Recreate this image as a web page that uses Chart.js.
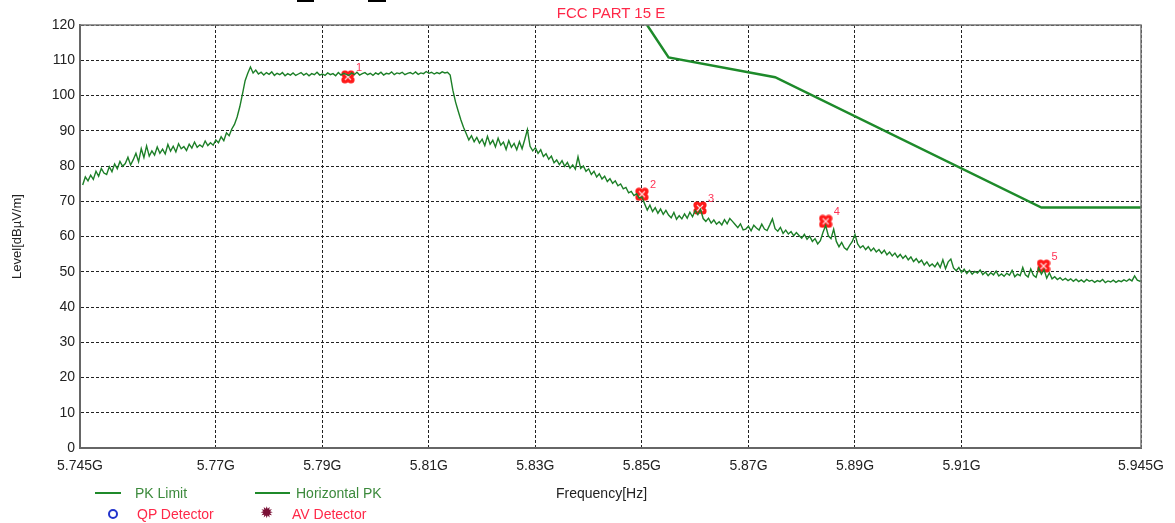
<!DOCTYPE html>
<html lang="en">
<head>
<meta charset="UTF-8">
<title>FCC PART 15 E</title>
<script src="https://cdn.jsdelivr.net/npm/chart.js"></script>
<style>
    body { margin: 0; background: #fff; font-family: Arial, "Liberation Sans", sans-serif; }
    #wrap { position: relative; width: 1175px; height: 523px; overflow: hidden; }
    #wrap canvas { position: absolute; left: 0; top: 0; }
    .txt { position: absolute; font-size: 14px; white-space: nowrap; line-height: 16px; }
    .bar { position: absolute; background: #000; height: 2px; top: 0; }
    .lg-line { position: absolute; height: 2px; background: #1f8a2a; }
    .ring { position: absolute; width: 6px; height: 6px; border: 2px solid #2233cc; border-radius: 50%; }
</style>
</head>
<body>
<div id="wrap">
    <canvas id="chart"></canvas>
    <div class="bar" style="left:297px;width:17px"></div>
    <div class="bar" style="left:368px;width:18px"></div>
    <div class="txt" style="left:611px;top:5px;transform:translateX(-50%);color:#ff2848;font-size:15px">FCC PART 15 E</div>
    <div class="txt" style="left:556px;top:485px;color:#222">Frequency[Hz]</div>
    <div class="lg-line" style="left:95px;top:492px;width:26px"></div>
    <div class="txt" style="left:135px;top:485px;color:#3c8a3c">PK Limit</div>
    <div class="lg-line" style="left:255px;top:492px;width:35px"></div>
    <div class="txt" style="left:296px;top:485px;color:#3c8a3c">Horizontal PK</div>
    <div class="ring" style="left:108px;top:509px"></div>
    <div class="txt" style="left:137px;top:506px;color:#ff2848">QP Detector</div>
    <div class="txt" style="left:260px;top:505px;color:#7a1036;font-size:16px">&#10041;</div>
    <div class="txt" style="left:292px;top:506px;color:#ff2848">AV Detector</div>
</div>

<script>
    const axisMinGHz = 5.7445;
    const axisMaxGHz = 5.9437;

    // measured trace, 0.5 MHz steps from 5.745 GHz
    const traceStartGHz = 5.745;
    const traceStepGHz = 0.0005;
    const traceLevels = [
        74.6, 76.9, 75.8, 77.4, 76.2, 78.5, 77.1, 79.3, 78.0, 77.6,
        79.8, 78.4, 80.6, 79.2, 81.3, 79.9, 80.7, 82.5, 80.3, 81.8,
        83.6, 81.2, 84.9, 82.4, 85.7, 82.8, 84.3, 83.1, 85.4, 83.6,
        84.8, 83.4, 86.1, 84.2, 85.6, 84.0, 86.3, 84.9, 85.5, 84.4,
        86.2, 85.1, 86.8, 85.3, 86.0, 85.4, 87.1, 85.8, 86.6, 85.9,
        87.4, 86.6, 88.3, 87.2, 89.4, 88.6, 90.5, 91.8, 93.9, 96.8,
        100.4, 104.2, 106.3, 108.1, 106.4, 107.2, 106.1, 106.6, 105.8, 106.5,
        106.0, 106.7, 105.7, 106.3, 105.9, 106.5, 105.6, 106.2, 105.8, 106.4,
        105.7, 106.1, 106.5, 105.8, 106.3, 105.6, 106.2, 105.9, 106.6, 105.8,
        106.1, 105.7, 106.4, 105.9, 106.2, 105.6, 106.5, 105.8, 106.3, 106.0,
        105.7, 106.4, 105.9, 106.6, 105.8, 106.2, 106.5, 105.9, 106.3, 105.7,
        106.4, 106.0, 106.6, 105.8, 106.3, 106.1, 106.7, 105.9, 106.4, 106.2,
        106.6, 105.9, 106.3, 106.5, 106.1, 106.7, 106.0, 106.4, 106.2, 106.8,
        106.3, 106.6, 106.1, 106.5, 106.2, 106.7, 106.4, 106.6, 105.8, 101.5,
        98.2, 95.6, 93.1, 91.0, 89.2, 87.4, 88.6, 86.9, 88.1, 86.5,
        87.6, 85.8, 88.4, 86.2, 87.3, 85.4, 87.9, 85.9, 86.8, 84.7,
        87.2, 85.3, 86.4, 84.6, 86.9, 84.9, 87.5, 90.3, 85.6, 84.3,
        85.2, 83.6, 84.6, 82.7, 83.5, 81.9, 82.8, 80.9, 81.7, 80.4,
        81.5, 79.9, 81.0, 79.4, 80.3, 79.1, 82.6, 79.3, 80.0, 78.5,
        79.2, 77.6, 78.5, 76.9, 77.8, 76.3, 77.1, 75.6, 76.4, 75.1,
        75.8, 74.4, 74.9, 73.5, 73.9, 72.4, 72.8, 71.6, 72.1, 70.9,
        71.2, 69.3, 67.5, 68.9, 67.1, 68.2, 66.6, 67.8, 66.3, 67.4,
        66.1, 65.3, 66.8, 64.9, 65.9, 65.0, 66.4, 65.2, 66.9, 65.6,
        67.4, 66.2, 67.7, 65.1, 64.3, 65.2, 63.8, 64.7, 63.5, 64.2,
        63.3, 64.8, 63.6, 65.1, 64.3, 63.4, 62.5, 63.6, 61.9, 62.1,
        62.9, 61.6, 63.2, 62.4, 61.8, 63.5, 62.1, 61.7, 63.3, 65.0,
        62.2, 61.5, 62.6, 60.9, 61.8, 60.7, 61.4, 60.2, 61.1, 60.3,
        59.5, 60.6, 59.2, 60.1, 58.6, 59.4, 57.9, 58.8, 61.2, 63.1,
        60.2, 59.4, 62.1, 58.6, 57.1, 58.3, 56.8, 56.2, 57.5, 58.6,
        60.6, 57.9, 56.8, 57.4, 56.3, 57.1, 55.9, 56.7, 55.6, 56.3,
        55.2, 56.1, 54.8, 55.6, 54.5, 55.3, 54.1, 54.9, 53.8, 54.6,
        53.4, 54.2, 52.9, 53.7, 52.6, 53.3, 51.9, 52.8, 51.6, 52.2,
        51.4, 52.6, 51.2, 53.4, 50.9, 52.8, 53.6, 51.1, 50.3, 51.2,
        49.8, 50.7, 49.5, 50.4, 49.3, 50.1, 49.6, 50.5, 49.2, 49.9,
        48.9, 49.7, 49.1, 50.2, 48.8, 49.4, 48.7, 49.6, 49.0, 50.4,
        48.6, 49.3, 48.9, 51.2, 49.1, 48.5, 50.8, 49.0, 48.4, 51.1,
        49.3, 50.6, 48.2, 49.7, 48.0, 48.6, 47.8, 48.3, 47.6, 48.1,
        47.5, 48.0, 47.3, 47.9, 47.2, 47.7, 47.1, 47.8, 47.3, 47.6,
        47.0, 47.5, 47.2, 47.8, 46.9, 47.4, 47.1, 47.6, 47.0, 47.5,
        47.2, 47.7, 47.3, 47.9, 47.4, 48.8, 47.6, 47.3, 47.7, 47.4,
        47.5
    ];

    const limitFreqs = [5.85, 5.855, 5.875, 5.925, 5.945];
    const limitLevels = [122.2, 110.8, 105.2, 68.2, 68.2];

    const markerFreqs = [5.7948, 5.85, 5.8609, 5.8845, 5.9254];
    const markerLevels = [105.3, 72.0, 68.1, 64.3, 51.6];
    const markerLabels = ["1", "2", "3", "4", "5"];

    const xTickValues = [axisMinGHz, 5.77, 5.79, 5.81, 5.83, 5.85, 5.87, 5.89, 5.91, axisMaxGHz];
    const xTickLabels = ["5.745G", "5.77G", "5.79G", "5.81G", "5.83G", "5.85G", "5.87G", "5.89G", "5.91G", "5.945G"];

    const tracePoints = traceLevels.map((v, i) => ({ x: traceStartGHz + i * traceStepGHz, y: v }));
    const limitPoints = limitFreqs.map((f, i) => ({ x: f, y: limitLevels[i] }));
    const markerPoints = markerFreqs.map((f, i) => ({ x: f, y: markerLevels[i] }));

    // red clover marker
    const markImg = document.createElement("canvas");
    markImg.width = 14; markImg.height = 14;
    const mc = markImg.getContext("2d");
    mc.fillStyle = "#ff1a1a";
    [[4, 4], [10, 4], [4, 10], [10, 10]].forEach(([x, y]) => {
        mc.beginPath(); mc.arc(x, y, 3.6, 0, Math.PI * 2); mc.fill();
    });
    mc.strokeStyle = "#ffd6d6"; mc.lineWidth = 1.2;
    mc.beginPath(); mc.moveTo(4, 4); mc.lineTo(10, 10); mc.moveTo(10, 4); mc.lineTo(4, 10); mc.stroke();

    const framePlugin = {
        id: "frame",
        afterDraw(chart) {
            const { ctx, chartArea: a } = chart;
            ctx.save();
            ctx.strokeStyle = "#777";
            ctx.lineWidth = 1.5;
            ctx.beginPath();
            ctx.moveTo(a.left, a.top); ctx.lineTo(a.right, a.top); ctx.lineTo(a.right, a.bottom);
            ctx.stroke();
            // marker numbers
            const meta = chart.getDatasetMeta(2);
            ctx.fillStyle = "#ff3355";
            ctx.font = "11px Arial, 'Liberation Sans', sans-serif";
            meta.data.forEach((p, i) => ctx.fillText(markerLabels[i], p.x + 8, p.y - 6));
            ctx.restore();
        }
    };

    const canvas = document.getElementById("chart");
    canvas.width = 1175; canvas.height = 523;
    canvas.style.width = "1175px"; canvas.style.height = "523px";

    new Chart(canvas.getContext("2d"), {
        type: "line",
        data: {
            datasets: [
                { label: "Horizontal PK", data: tracePoints, borderColor: "#1c7f27", borderWidth: 1.4, pointRadius: 0, tension: 0 },
                { label: "PK Limit", data: limitPoints, borderColor: "#1d8a2a", borderWidth: 2.5, pointRadius: 0, tension: 0 },
                { label: "Markers", data: markerPoints, showLine: false, pointStyle: markImg, pointRadius: 7 }
            ]
        },
        options: {
            responsive: false,
            animation: false,
            events: [],
            layout: { padding: { left: 0, right: 34, top: 25, bottom: 0 } },
            plugins: { legend: { display: false }, tooltip: { enabled: false } },
            scales: {
                x: {
                    type: "linear",
                    min: axisMinGHz,
                    max: axisMaxGHz,
                    afterBuildTicks: axis => { axis.ticks = xTickValues.map(v => ({ value: v })); },
                    afterFit: axis => { axis.height = 75; },
                    ticks: {
                        autoSkip: false, maxRotation: 0, padding: 10,
                        color: "#222", font: { size: 14, family: "Arial, 'Liberation Sans', sans-serif" },
                        callback: (v, i) => xTickLabels[i]
                    },
                    grid: { color: "#222", lineWidth: 1, drawTicks: false },
                    border: { color: "#666", width: 2, dash: [3, 2] }
                },
                y: {
                    min: 0,
                    max: 120,
                    afterFit: axis => { axis.width = 80; },
                    ticks: {
                        stepSize: 10, padding: 5,
                        color: "#222", font: { size: 14, family: "Arial, 'Liberation Sans', sans-serif" }
                    },
                    grid: { color: "#222", lineWidth: 1, drawTicks: false },
                    border: { color: "#666", width: 2, dash: [3, 2] },
                    title: {
                        display: true, text: "Level[dBµV/m]", color: "#222",
                        padding: { top: 10, bottom: 0 },
                        font: { size: 13, family: "Arial, 'Liberation Sans', sans-serif" }
                    }
                }
            }
        },
        plugins: [framePlugin]
    });
</script>
</body>
</html>
